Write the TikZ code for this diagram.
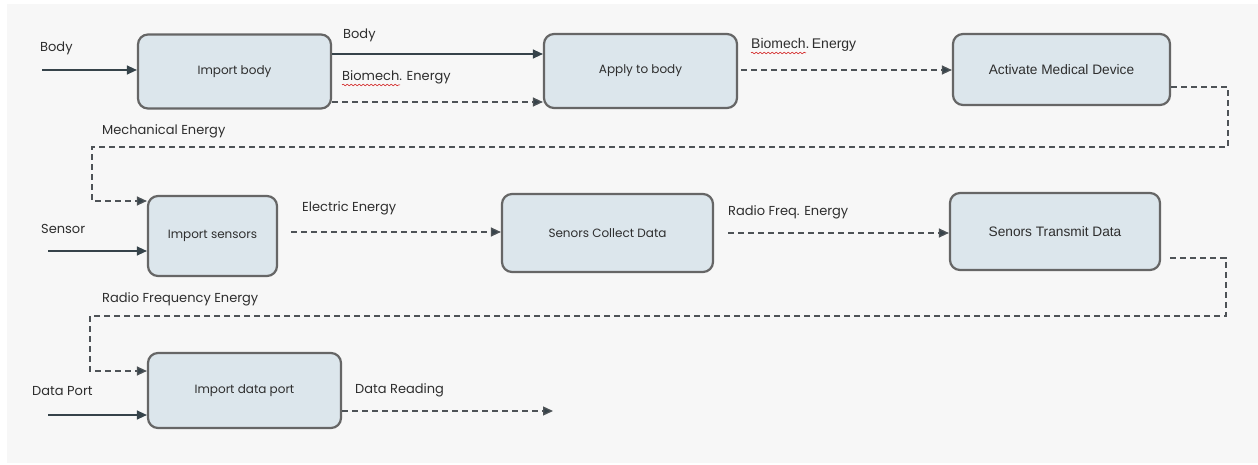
\documentclass[tikz,border=0pt]{standalone}
\usepackage{fontspec}
\setmainfont{Poppins}
\newfontfamily\arialf{Liberation Sans}
\usetikzlibrary{arrows.meta,decorations.pathmorphing}
\definecolor{bgc}{HTML}{F7F7F7}
\definecolor{boxfill}{HTML}{DCE6EC}
\definecolor{boxline}{HTML}{666666}
\definecolor{linec}{HTML}{36434A}
\definecolor{dashc}{HTML}{4E5357}
\definecolor{txtc}{HTML}{2E2E2E}
\tikzset{
  procbox/.style={draw=boxline, line width=2.2pt, fill=boxfill, rounded corners=10pt,
    inner sep=0pt, font=\fontsize{12}{14}\selectfont, text=txtc},
  arialbox/.style={font=\arialf\fontsize{13.7}{16}\selectfont},
  lbl/.style={anchor=west, inner sep=0pt, font=\fontsize{13}{15}\selectfont, text=txtc},
  flowsolid/.style={draw=linec, line width=1.3pt, -{Triangle[length=10pt,width=9pt]}},
  flowdash/.style={draw=dashc, line width=1.3pt, dash pattern=on 6pt off 4pt,
    -{Triangle[length=10pt,width=9pt,fill=linec]}},
  squig/.style={draw=red!80!black, line width=0.5pt, decorate,
    decoration={snake, amplitude=0.8pt, segment length=4pt}},
}
\begin{document}
\begin{tikzpicture}[x=1pt,y=-1pt]
\useasboundingbox (0,0) rectangle (1258,465);
\fill[white] (0,0) rectangle (1258,465);
\fill[bgc] (7,4) rectangle (1258,463);

% boxes
\node[procbox, minimum width=193pt, minimum height=74pt] (b1) at (234.5,71.5) {Import body};
\node[procbox, minimum width=193pt, minimum height=74pt] (b2) at (640.5,71) {Apply to body};
\node[procbox, arialbox, minimum width=217pt, minimum height=71pt] (b3) at (1061.5,69.5) {Activate Medical Device};
\node[procbox, minimum width=129pt, minimum height=80pt] (b4) at (212.5,236) {Import sensors};
\node[procbox, minimum width=211pt, minimum height=78pt] (b5) at (607.5,233) {Senors Collect Data};
\node[procbox, arialbox, minimum width=210pt, minimum height=77pt] (b6) at (1055,231.5) {Senors Transmit Data};
\node[procbox, minimum width=193pt, minimum height=75pt] (b7) at (244.5,390.5) {Import data port};

% labels
\node[lbl] (lbody) at (40,48) {Body};
\node[lbl] (lbody2) at (343,35) {Body};
\node[lbl] (lbio1) at (342,77) {Biomech. Energy};
\node[lbl, font=\arialf\fontsize{14}{16}\selectfont] (lbio2) at (751,45) {Biomech.\,Energy};
\node[lbl] (lmech) at (102,131) {Mechanical Energy};
\node[lbl] (lsens) at (41,229) {Sensor};
\node[lbl] (lelec) at (302,208) {Electric Energy};
\node[lbl] (lrf1) at (728,212) {Radio Freq. Energy};
\node[lbl] (lrf2) at (102,299) {Radio Frequency Energy};
\node[lbl] (ldp) at (32,391) {Data Port};
\node[lbl] (ldr) at (355,390) {Data Reading};

% spell-check squiggles
\draw[squig] (342,85) -- (400,85);
\draw[squig] (751,53) -- (806,53);

% free ends
\coordinate (inbody) at (42,70);
\coordinate (insens) at (48,251);
\coordinate (indp) at (48,415);
\coordinate (r1) at (1228,147);
\coordinate (l1) at (92,201);
\coordinate (r2) at (1226,316);
\coordinate (l2) at (90,371);
\coordinate (outdr) at (553,411);

% inputs
\draw[flowsolid] (inbody) -- (inbody -| b1.west);
\draw[flowsolid] (insens) -- (insens -| b4.west);
\draw[flowsolid] (indp) -- (indp -| b7.west);

% row 1
\coordinate (s12) at ([yshift=17.5pt]b1.east);
\draw[flowsolid] (s12) -- (s12 -| b2.west);
\coordinate (d12) at ([yshift=-30.5pt]b1.east);
\draw[flowdash] (d12) -- (d12 -| b2.west);
\coordinate (d23) at ([xshift=3pt,yshift=1pt]b2.east);
\draw[flowdash] (d23) -- (d23 -| b3.west);

% loop 3 -> 4
\coordinate (d34) at ([yshift=-17.5pt]b3.east);
\draw[flowdash] (d34) -| (r1) -| (l1) -- (l1 -| b4.west);

% row 2
\coordinate (d45) at ([xshift=13pt,yshift=4pt]b4.east);
\draw[flowdash] (d45) -- (d45 -| b5.west);
\coordinate (d56) at ([xshift=14pt]b5.east);
\draw[flowdash] (d56) -- (d56 -| b6.west);

% loop 6 -> 7
\coordinate (d67) at ([xshift=9pt,yshift=-26.5pt]b6.east);
\draw[flowdash] (d67) -| (r2) -| (l2) -- (l2 -| b7.west);

% output
\coordinate (d7o) at ([yshift=-20.5pt]b7.east);
\draw[flowdash] (d7o) -- (d7o -| outdr);
\end{tikzpicture}
\end{document}
